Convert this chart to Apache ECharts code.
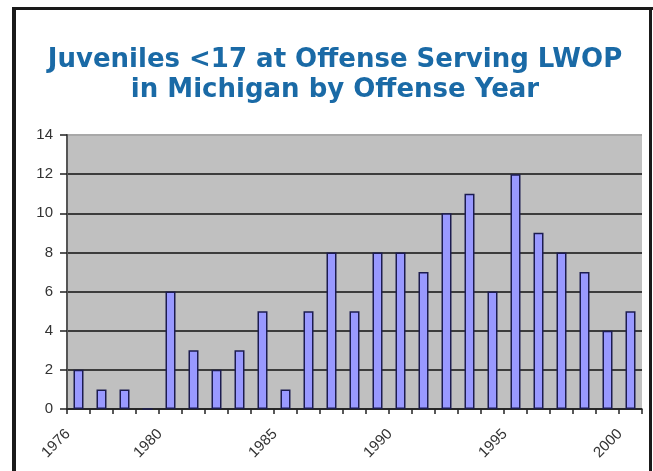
<!DOCTYPE html>
<html>
<head>
<meta charset="utf-8">
<script src="https://cdn.jsdelivr.net/npm/echarts@6/dist/echarts.min.js"></script>
<style>
html,body{margin:0;padding:0;background:#fff;}
#chart{width:653px;height:471px;}
</style>
</head>
<body>
<div id="chart"></div>
<script>
const titleLines = ['Juveniles <17 at Offense Serving LWOP', 'in Michigan by Offense Year'];
const years = ['1976','1977','1978','1979','1980','1981','1982','1983','1984','1985','1986','1987','1988','1989','1990','1991','1992','1993','1994','1995','1996','1997','1998','1999','2000'];
const counts = [2,1,1,0,6,3,2,3,5,1,5,8,5,8,8,7,10,11,6,12,9,8,7,4,5];
const shownYearLabels = ['1976','1980','1985','1990','1995','2000'];
const yTicks = [0,2,4,6,8,10,12,14];

const chart = echarts.init(document.getElementById('chart'), null, {renderer:'canvas'});
const gridColors = yTicks.map((v,i)=> i === yTicks.length-1 ? '#a8a8a8' : '#3c3c3c');
chart.setOption({
  animation:false,
  backgroundColor:'#ffffff',
  title:{
    text: titleLines.join('\n'),
    left: 330,
    textAlign:'center',
    top: 40,
    textStyle:{fontFamily:'DejaVu Sans', fontWeight:'bold', fontSize:26, lineHeight:30, color:'#1a6aa6'}
  },
  grid:{left:67, right:11, top:135, bottom:62, show:true, backgroundColor:'#c0c0c0', borderWidth:0},
  xAxis:{
    type:'category', data:years, boundaryGap:true,
    axisLine:{lineStyle:{color:'#222', width:1.5}},
    axisTick:{show:true, alignWithLabel:false, interval:0, length:5, lineStyle:{color:'#222', width:1.5}},
    axisLabel:{
      interval:0, rotate:45, margin:12, padding:[0,15,0,0],
      fontFamily:'Liberation Sans', fontSize:15, color:'#333',
      formatter:(v)=> shownYearLabels.includes(v) ? v : ''
    }
  },
  yAxis:{
    type:'value', min:0, max:14, interval:2,
    axisLine:{show:true, lineStyle:{color:'#555', width:2}},
    axisTick:{show:true, length:7, lineStyle:{color:'#222', width:1.5}},
    axisLabel:{margin:14, fontFamily:'Liberation Sans', fontSize:15, color:'#333'},
    splitLine:{show:true, lineStyle:{color:gridColors, width:2}}
  },
  series:[{
    type:'bar', data:counts, barWidth:10,
    itemStyle:{color:'#9999ff', borderColor:'#1c1c50', borderWidth:1.5}
  }],
  graphic:[
    {type:'rect', shape:{x:12, y:7, width:4, height:464}, style:{fill:'#1a1a1a'}, z:100},
    {type:'rect', shape:{x:12, y:7, width:641, height:3}, style:{fill:'#1a1a1a'}, z:100},
    {type:'rect', shape:{x:649, y:7, width:3, height:464}, style:{fill:'#1a1a1a'}, z:100}
  ]
});
</script>
</body>
</html>
